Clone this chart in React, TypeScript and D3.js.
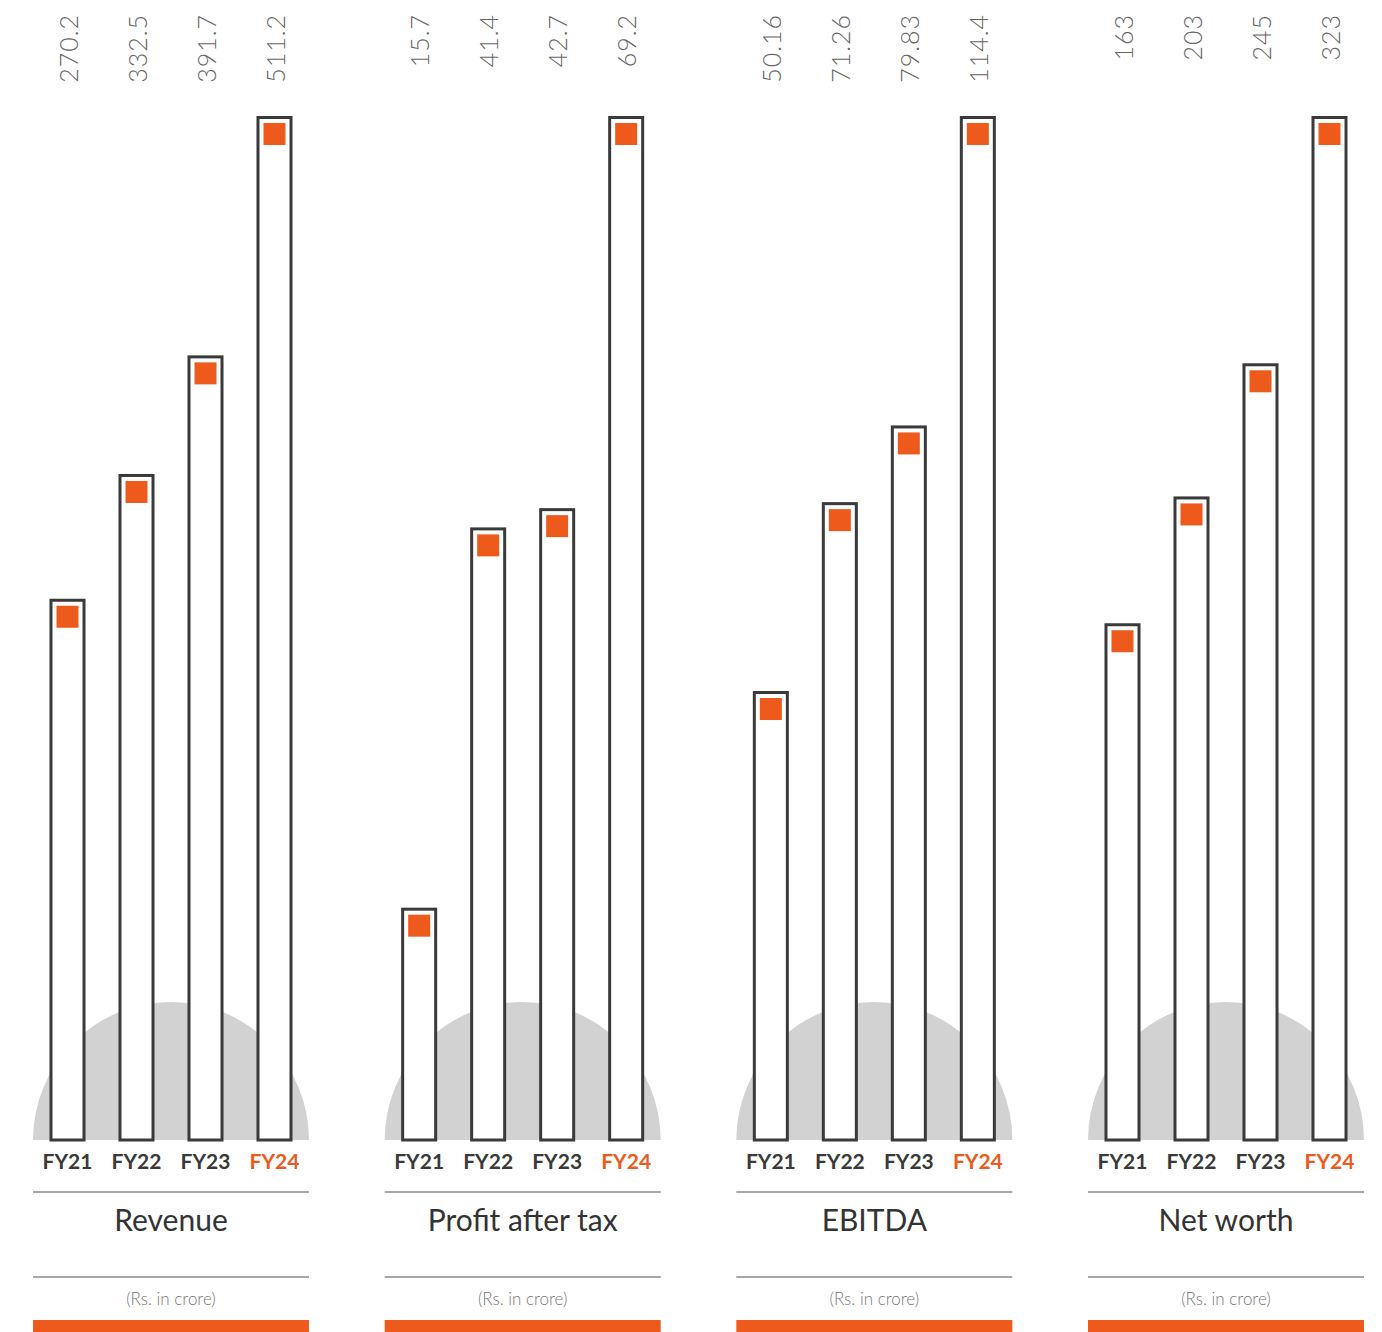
import { useEffect, useRef } from 'react';
import * as d3 from 'd3';

const YEARS = ['FY21', 'FY22', 'FY23', 'FY24'];
const TITLES = ['Revenue', 'Profit after tax', 'EBITDA', 'Net worth'];
const UNIT = '(Rs. in crore)';

const REVENUE = [270.2, 332.5, 391.7, 511.2];
const PAT = [15.7, 41.4, 42.7, 69.2];
const EBITDA = [50.16, 71.26, 79.83, 114.4];
const NET_WORTH = [163, 203, 245, 323];
const VALUE_LABELS = [
  ['270.2', '332.5', '391.7', '511.2'],
  ['15.7', '41.4', '42.7', '69.2'],
  ['50.16', '71.26', '79.83', '114.4'],
  ['163', '203', '245', '323'],
];

const SERIES = [REVENUE, PAT, EBITDA, NET_WORTH];

const ORANGE = '#EE5A1C';
const DARK = '#3a3a3a';

export default function App() {
  const svgRef = useRef<SVGSVGElement>(null);

  useEffect(() => {
    document.body.style.margin = '0';
    if (!svgRef.current) return;
    const width = 1382;
    const height = 1332;
    const svg = d3.select(svgRef.current);
    svg.selectAll('*').remove();
    svg.attr('width', width).attr('height', height);

    const panelW = 276;
    const panelX = d3.scaleLinear().domain([0, 3]).range([33, 1088]);
    const baseY = 1140;
    const topY = 116;

    const x = d3.scaleBand<string>()
      .domain(YEARS)
      .range([0, panelW])
      .paddingInner(0.478)
      .paddingOuter(0.239);

    SERIES.forEach((values, pi) => {
      const g = svg.append('g').attr('transform', `translate(${panelX(pi)},0)`);
      const y = d3.scaleLinear().domain([0, d3.max(values)!]).range([baseY, topY]);

      // grey half circle behind the bars
      const arc = d3.arc()({
        innerRadius: 0,
        outerRadius: panelW / 2,
        startAngle: -Math.PI / 2,
        endAngle: Math.PI / 2,
      } as any);
      g.append('path')
        .attr('d', arc)
        .attr('transform', `translate(${panelW / 2},${baseY})`)
        .attr('fill', '#d2d2d2');

      // bars
      const bw = x.bandwidth();
      g.selectAll('rect.bar')
        .data(values)
        .join('rect')
        .attr('class', 'bar')
        .attr('x', (_, i) => x(YEARS[i])! + 1.5)
        .attr('y', d => y(d) + 1.5)
        .attr('width', bw - 3)
        .attr('height', d => baseY - y(d) - 1.5)
        .attr('fill', '#fff')
        .attr('stroke', DARK)
        .attr('stroke-width', 3);

      // orange squares
      g.selectAll('rect.mark')
        .data(values)
        .join('rect')
        .attr('class', 'mark')
        .attr('x', (_, i) => x(YEARS[i])! + bw / 2 - 11)
        .attr('y', d => y(d) + 7)
        .attr('width', 22)
        .attr('height', 22)
        .attr('fill', ORANGE);

      // value labels (rotated, hanging from the top)
      g.selectAll('text.val')
        .data(VALUE_LABELS[pi])
        .join('text')
        .attr('class', 'val')
        .attr('transform', (_, i) => `translate(${x(YEARS[i])! + bw / 2 + 1},14) rotate(-90)`)
        .attr('dy', '0.36em')
        .attr('text-anchor', 'end')
        .attr('font-family', 'Lato, sans-serif')
        .attr('font-weight', 300)
        .attr('font-size', 25)
        .attr('letter-spacing', 1)
        .attr('fill', '#666')
        .text(d => d);

      // year labels
      g.selectAll('text.year')
        .data(YEARS)
        .join('text')
        .attr('class', 'year')
        .attr('x', d => x(d)! + bw / 2)
        .attr('y', 1169)
        .attr('text-anchor', 'middle')
        .attr('font-family', 'Lato, sans-serif')
        .attr('font-weight', 700)
        .attr('font-size', 21)
        .attr('fill', (_, i) => (i === YEARS.length - 1 ? ORANGE : DARK))
        .text(d => d);

      // separators
      [1192, 1277].forEach(ly => {
        g.append('line')
          .attr('x1', 0).attr('x2', panelW)
          .attr('y1', ly).attr('y2', ly)
          .attr('stroke', '#8a8a8a')
          .attr('stroke-width', 1.5);
      });

      g.append('text')
        .attr('x', panelW / 2)
        .attr('y', 1231)
        .attr('text-anchor', 'middle')
        .attr('font-family', 'Lato, sans-serif')
        .attr('font-size', 30)
        .attr('fill', '#333')
        .text(TITLES[pi]);

      g.append('text')
        .attr('x', panelW / 2)
        .attr('y', 1305)
        .attr('text-anchor', 'middle')
        .attr('font-family', 'Lato, sans-serif')
        .attr('font-weight', 300)
        .attr('font-size', 17)
        .attr('fill', '#777')
        .text(UNIT);

      g.append('rect')
        .attr('x', 0)
        .attr('y', 1320)
        .attr('width', panelW)
        .attr('height', 12)
        .attr('fill', ORANGE);
    });
  }, []);

  return <svg ref={svgRef} style={{ display: 'block' }} />;
}
